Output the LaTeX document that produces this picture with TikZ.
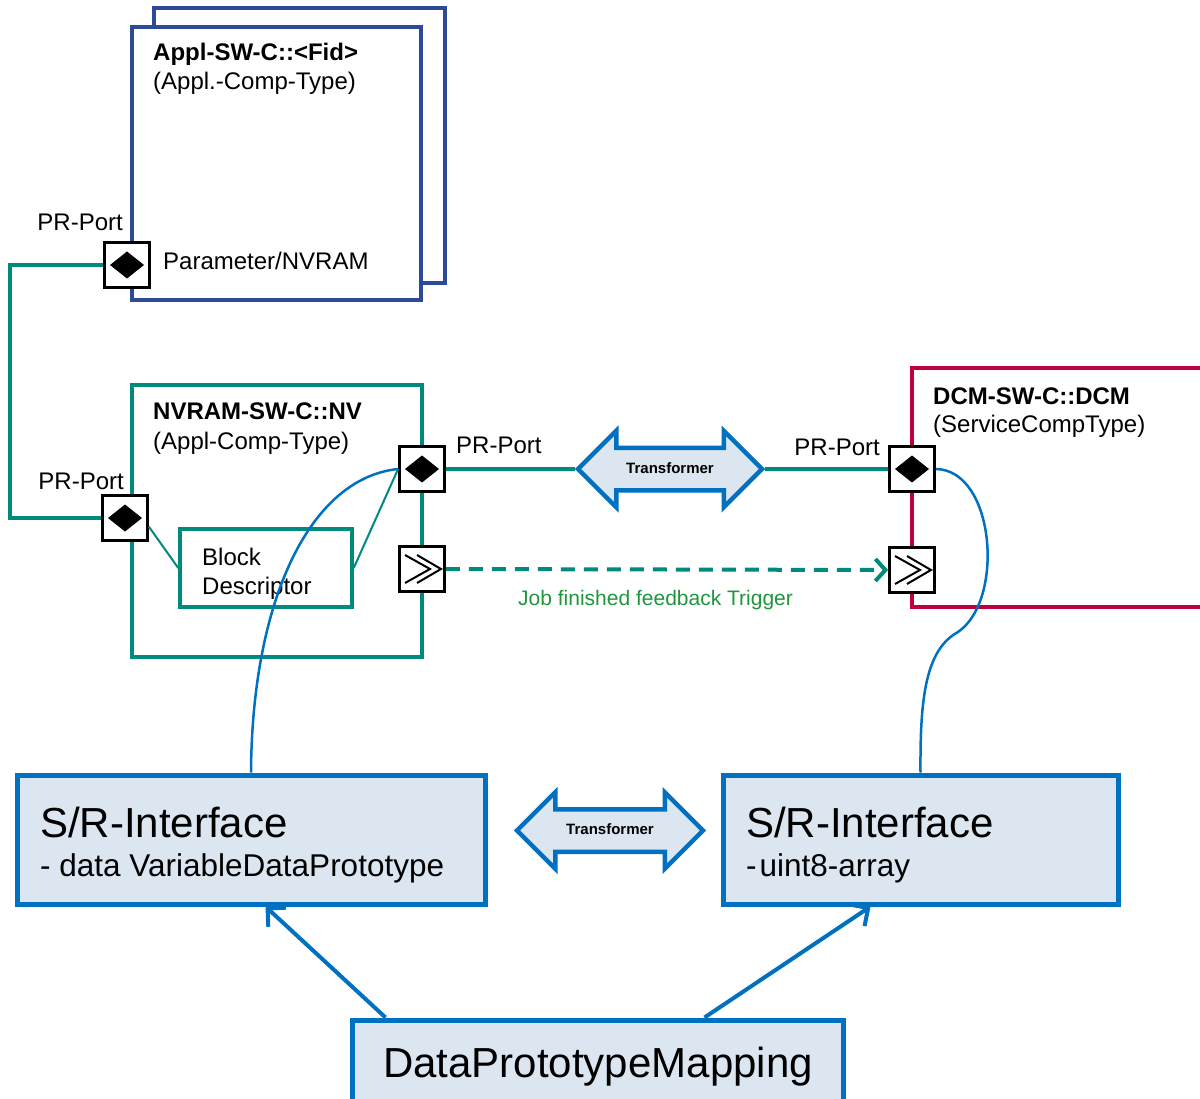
\documentclass[tikz,border=0pt]{standalone}
\usepackage{fontspec}
\setmainfont{Liberation Sans}
\usetikzlibrary{shapes.arrows,arrows.meta,calc}
\definecolor{applblue}{RGB}{44,74,150}
\definecolor{nvteal}{RGB}{0,138,125}
\definecolor{dcmred}{RGB}{192,0,58}
\definecolor{ifblue}{RGB}{0,112,192}
\definecolor{iffill}{RGB}{220,230,241}
\definecolor{trgreen}{RGB}{30,150,60}

\begin{document}
\begin{tikzpicture}
  [x=1pt,y=-1pt,
   every node/.style={inner sep=0pt,font=\fontsize{24}{29}\selectfont},
   txt/.style={anchor=base west},
   rtxt/.style={anchor=base east},
   bold/.style={font=\fontsize{24}{29}\selectfont\bfseries},
   comp/.style={draw,line width=4pt,fill=white},
   port/.style={draw=black,line width=2.8pt,fill=white,minimum size=45pt},
   prport/.style={port,path picture={\fill[black] (path picture bounding box.center) +(-17pt,0pt) -- +(0pt,13.5pt) -- +(17pt,0pt) -- +(0pt,-13.5pt) -- cycle;}},
   trigport/.style={port,path picture={\draw[black,line width=2pt,line join=miter] (path picture bounding box.center) +(-17pt,-14pt) -- +(8pt,0pt) -- +(-17pt,14pt) +(-5pt,-14pt) -- +(19pt,0pt) -- +(-5pt,14pt);}},
   xform/.style={double arrow,draw=ifblue,line width=4.5pt,fill=iffill,double arrow head extend=17pt,double arrow tip angle=90,minimum height=184pt,inner xsep=0pt,inner ysep=12pt,text height=11pt,text depth=3pt,font=\fontsize{15}{18}\selectfont\bfseries},
   iface/.style={draw=ifblue,line width=5pt,fill=iffill},
   link/.style={draw=nvteal,line width=4pt},
   nvthin/.style={draw=nvteal,line width=2pt},
   bind/.style={draw=ifblue,line width=2.5pt},
   maparrow/.style={draw=ifblue,line width=4pt,-{Straight Barb[length=13pt,width=26pt]}}]

  \useasboundingbox (0,0) rectangle (1200,1099);
  \clip (0,0) rectangle (1200,1099);

  \node[comp,draw=applblue,minimum width=291pt,minimum height=275pt] (applback) at (299.5,145.5) {};
  \node[comp,draw=applblue,minimum width=289pt,minimum height=273pt] (appl) at (276.5,163.5) {};
  \node[comp,draw=nvteal,minimum width=290pt,minimum height=272pt] (nv) at (277,521) {};
  \node[comp,draw=nvteal,line width=3.5pt,minimum width=172pt,minimum height=78pt] (block) at (266,568) {};
  \node[comp,draw=dcmred,line width=3.5pt,minimum width=300pt,minimum height=239pt] (dcm) at (1062,487.5) {};

  \node[txt,bold] (applname) at (153,60.5) {Appl-SW-C::<Fid>};
  \node[txt] (appltype) at (153,89.5) {(Appl.-Comp-Type)};
  \node[txt] (param) at (163,269.5) {Parameter/NVRAM};
  \node[txt,bold] (nvname) at (153,420) {NVRAM-SW-C::NV};
  \node[txt] (nvtype) at (153,449) {(Appl-Comp-Type)};
  \node[txt] (blk1) at (202,565) {Block};
  \node[txt] (blk2) at (202,594) {Descriptor};
  \node[txt,bold] (dcmname) at (933,404) {DCM-SW-C::DCM};
  \node[txt] (dcmtype) at (933,432) {(ServiceCompType)};

  \node[rtxt] (lp1) at (123,231) {PR-Port};
  \node[rtxt] (lp2) at (124,489) {PR-Port};
  \node[txt] (lp3) at (456,453) {PR-Port};
  \node[rtxt] (lp4) at (880,455) {PR-Port};

  \node[prport] (p1) at (127,265) {};
  \node[prport] (p2) at (125,518) {};
  \node[prport] (p3) at (422,469) {};
  \node[prport] (p4) at (912,469) {};
  \node[trigport] (t1) at (422,569) {};
  \node[trigport] (t2) at (912,570) {};

  \node[xform] (tr1) at (670,469) {Transformer};
  \node[xform,minimum height=186pt] (tr2) at (610,830.5) {Transformer};

  \node[iface,minimum width=468pt,minimum height=129pt] (sr1) at (251,839.5) {};
  \node[iface,minimum width=395pt,minimum height=129pt] (sr2) at (920.5,839.5) {};
  \node[iface,minimum width=491pt,minimum height=180pt] (dpm) at (597.5,1110) {};

  \node[txt,font=\fontsize{42}{50}\selectfont] (sr1name) at (40,837) {S/R-Interface};
  \node[txt,font=\fontsize{31.5}{38}\selectfont] (sr1data) at (40,876) {- data VariableDataPrototype};
  \node[txt,font=\fontsize{42}{50}\selectfont] (sr2name) at (746,837) {S/R-Interface};
  \node[txt,font=\fontsize{31.5}{38}\selectfont] (sr2data) at (746,876) {-\kern3pt uint8-array};
  \node[txt,font=\fontsize{42}{50}\selectfont] (dpmname) at (383,1077) {DataPrototypeMapping};
  \node[txt,font=\fontsize{21}{25}\selectfont,text=trgreen] (jobtxt) at (518,605.5) {Job finished feedback Trigger};

  \draw[link] (p1.west) -- ++(-93,0) |- (p2.west);
  \foreach \from/\to in {p3/tr1,tr1/p4}
    \draw[link] (\from) -- (\to);
  \draw[nvthin] (p2.-20) -- (block.west);
  \draw[nvthin] (block.east) -- (p3.west);
  \draw[link,dash pattern=on 14pt off 9pt,-{Straight Barb[length=10pt,width=22pt]}] (t1.east) -- (t2.west);

  \draw[bind] (sr1.north) .. controls (252,600) and (310,478) .. (p3.west);
  \draw[bind] (p4.east) .. controls (995,470) and (1005,600) .. (958,632) .. controls (925,650) and (920,700) .. (sr2.north);

  \draw[maparrow] ($(dpm.north west)+(36,0)$) -- ($(sr1.south west)+(251,0)$);
  \draw[maparrow] ($(dpm.north west)+(355,0)$) -- ($(sr2.south west)+(150,0)$);

\end{tikzpicture}
\end{document}
